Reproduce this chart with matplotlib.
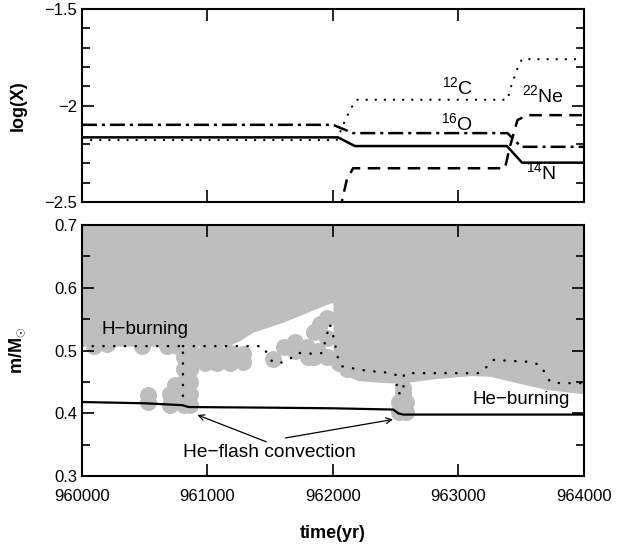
import matplotlib
matplotlib.use('Agg')
import matplotlib.pyplot as plt
import numpy as np

plt.rcParams['font.family'] = ['Liberation Sans', 'DejaVu Sans']
plt.rcParams['mathtext.fontset'] = 'custom'
plt.rcParams['mathtext.rm'] = 'Liberation Sans'
plt.rcParams['mathtext.it'] = 'Liberation Sans:italic'
plt.rcParams['mathtext.bf'] = 'Liberation Sans:bold'

# ---- upper panel: surface abundances ----
t_o16 = [960000, 962000, 962160, 963390, 963500, 964000]
o16 = [-2.10, -2.10, -2.143, -2.143, -2.214, -2.214]
t_n14 = [960000, 962040, 962175, 963386, 963506, 964000]
n14 = [-2.165, -2.165, -2.21, -2.21, -2.296, -2.296]
t_c12 = [960000, 962030, 962110, 962150, 962190, 963390, 963420, 963470, 963506, 964000]
c12 = [-2.179, -2.179, -2.058, -2.008, -1.97, -1.97, -1.90, -1.807, -1.76, -1.76]
t_ne22 = [962030, 962070, 962110, 962160, 963370, 963410, 963470, 963550, 964000]
ne22 = [-2.65, -2.50, -2.386, -2.325, -2.325, -2.213, -2.075, -2.05, -2.05]

# ---- lower panel: structure ----
# lower edge of the big convective envelope region
t_env = [960000, 961150, 961250, 961360, 961600, 961870, 961980, 962000, 962001,
         962080, 962200, 962400, 962550, 962800, 963100, 963250, 963500, 963700, 964000]
m_env = [0.507, 0.507, 0.515, 0.529, 0.545, 0.567, 0.576, 0.576, 0.474,
         0.462, 0.452, 0.449, 0.448, 0.455, 0.460, 0.459, 0.447, 0.438, 0.431]

# convective zone points (scatter)
conv_t = [960100, 960200, 960480, 960680, 960760,
          960880, 960980, 961080, 961180, 961285, 960980, 961080, 961180, 961285,
          960810, 960860, 960810, 960860, 960810, 960860, 960810, 960860, 960810, 960860,
          960700, 960700, 960740,
          960525, 960525,
          961520, 961610, 961700, 961700, 961790, 961800, 961850, 961900, 961950, 961950,
          961880, 961950, 961850, 962050, 962110,
          962530, 962580, 962530, 962580, 962555, 962555]
conv_m = [0.508, 0.510, 0.508, 0.508, 0.508,
          0.496, 0.496, 0.496, 0.496, 0.494, 0.480, 0.480, 0.480, 0.482,
          0.49, 0.49, 0.47, 0.47, 0.45, 0.45, 0.43, 0.43, 0.413, 0.413,
          0.43, 0.413, 0.445,
          0.429, 0.418,
          0.487, 0.506, 0.514, 0.500, 0.505, 0.490, 0.530, 0.542, 0.552, 0.52,
          0.50, 0.49, 0.49, 0.48, 0.47,
          0.402, 0.402, 0.418, 0.418, 0.432, 0.440]

# H-burning shell (nan = break in the line)
t_h = [960000, 960805, 960805, np.nan, 960805, 961440, 961480, 961520, 961600, 961660, 961710,
       961790, 961860, 961910, 961930, 961950, 961975, 961995, 962010, 962025, 962040,
       962070, 962150, 962230, 962310, 962380, 962460, 962505, 962510, 962560, 962565,
       962620, 963170, 963225, 963275, 963570, 963650, 963690, 963730, 963810, 964000]
m_h = [0.507, 0.507, 0.415, np.nan, 0.507, 0.507, 0.494, 0.481, 0.481, 0.487, 0.496,
       0.496, 0.494, 0.496, 0.508, 0.524, 0.542, 0.530, 0.516, 0.502, 0.488,
       0.475, 0.472, 0.469, 0.467, 0.466, 0.464, 0.461, 0.432, 0.432, 0.462,
       0.464, 0.464, 0.474, 0.485, 0.482, 0.477, 0.464, 0.450, 0.448, 0.448]

# He-burning shell
t_he = [960000, 960500, 960800, 960850, 961500, 962000, 962480, 962520, 962560, 964000]
m_he = [0.418, 0.416, 0.413, 0.410, 0.409, 0.408, 0.406, 0.400, 0.398, 0.398]

fig = plt.figure(figsize=(6.3, 5.46), dpi=100)
ax1 = fig.add_axes([0.130, 0.630, 0.797, 0.3535])
ax2 = fig.add_axes([0.130, 0.128, 0.797, 0.460])

lw = 1.8
ax1.plot(t_o16, o16, color='black', lw=lw, dashes=(6, 2, 1.2, 2))
ax1.plot(t_n14, n14, color='black', lw=lw)
ax1.plot(t_c12, c12, color='black', lw=1.6, dashes=(0.1, 4), dash_capstyle='round')
ax1.plot(t_ne22, ne22, color='black', lw=lw, dashes=(5, 3))

ax1.text(962990, -1.905, r'$^{12}$C', fontsize=14, ha='center', va='center')
ax1.text(963675, -1.945, r'$^{22}$Ne', fontsize=14, ha='center', va='center')
ax1.text(962990, -2.09, r'$^{16}$O', fontsize=14, ha='center', va='center')
ax1.text(963660, -2.345, r'$^{14}$N', fontsize=14, ha='center', va='center')

ax1.set_xlim(960000, 964000)
ax1.set_ylim(-2.5, -1.5)
ax1.set_yticks([-2.5, -2, -1.5])
ax1.set_yticklabels(['\u22122.5', '\u22122', '\u22121.5'])
ax1.set_yticks(np.arange(-2.5, -1.49, 0.1), minor=True)
ax1.set_xticks([961000, 962000, 963000])
ax1.tick_params(axis='x', labelbottom=False)
ax1.set_ylabel('log(X)', fontsize=13, fontweight='bold')

ax2.fill_between(t_env, m_env, 0.7, color='#bebebe', lw=0)
ax2.scatter(conv_t, conv_m, s=150, color='#bebebe', lw=0)
ax2.plot(t_h, m_h, color='black', lw=1.8, dashes=(0.1, 4.2), dash_capstyle='round')
ax2.plot(t_he, m_he, color='black', lw=1.6)

ax2.text(960500, 0.533, 'H\u2212burning', fontsize=13.5, ha='center', va='center')
ax2.text(963500, 0.422, 'He\u2212burning', fontsize=13.5, ha='center', va='center')
ax2.text(961490, 0.338, 'He\u2212flash convection', fontsize=13.8, ha='center', va='center')
ax2.annotate('', xy=(960900, 0.399), xytext=(961490, 0.353),
             arrowprops=dict(arrowstyle='->', lw=0.9, color='black'))
ax2.annotate('', xy=(962500, 0.391), xytext=(961600, 0.360),
             arrowprops=dict(arrowstyle='->', lw=0.9, color='black'))

ax2.set_xlim(960000, 964000)
ax2.set_ylim(0.3, 0.7)
ax2.set_yticks([0.3, 0.4, 0.5, 0.6, 0.7])
ax2.set_yticks(np.arange(0.35, 0.7, 0.1), minor=True)
ax2.set_xticks([960000, 961000, 962000, 963000, 964000])
ax2.set_ylabel(r'm/M$_{\odot}$', fontsize=13, fontweight='bold')
ax2.set_xlabel('time(yr)', fontsize=13, fontweight='bold')
ax2.xaxis.set_label_coords(0.5, -0.195)

for ax in (ax1, ax2):
    for sp in ax.spines.values():
        sp.set_linewidth(1.5)
    ax.tick_params(which='both', direction='in', top=True, right=True, width=1.2,
                   labelsize=12)
    ax.tick_params(which='major', length=8.5)
    ax.tick_params(which='minor', length=5.8)
    ax.yaxis.set_label_coords(-0.11, 0.5)
ax2.tick_params(axis='x', pad=9)

fig.savefig('out.png', dpi=100)
